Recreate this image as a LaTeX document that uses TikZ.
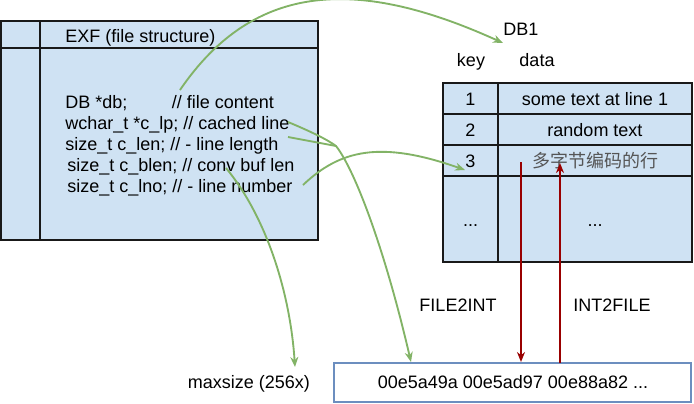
\documentclass[tikz,border=0pt]{standalone}
\usepackage{fontspec}
\setmainfont{Liberation Sans}
\newfontfamily\cjk{Noto Sans CJK SC}
\usetikzlibrary{arrows.meta}
\definecolor{boxfill}{HTML}{CFE2F3}
\definecolor{grn}{HTML}{82B366}
\definecolor{dred}{HTML}{990000}
\definecolor{bluebd}{HTML}{6C8EBF}
\definecolor{cjkgray}{HTML}{555555}
\begin{document}
\begin{tikzpicture}[x=0.75pt,y=-0.75pt, font=\fontsize{13.5}{15}\selectfont,
  lbl/.style={inner sep=0pt, anchor=base},
  lblw/.style={inner sep=0pt, anchor=base west},
  gline/.style={draw=grn, line width=1.4pt},
  garrow/.style={gline, -{Stealth[length=7.5pt,width=6pt]}},
  rarrow/.style={draw=dred, line width=1.4pt, -{Stealth[length=7.5pt,width=6pt]}},
  frame/.style={draw=black!90, line width=1.5pt, fill=boxfill},
  rule/.style={draw=black!90, line width=1.5pt}]
\useasboundingbox (0,0) rectangle (694,404);

% EXF structure box
\path[frame] (1,21) rectangle (318,240);
\draw[rule] (40,21) -- (40,240);
\draw[rule] (1,48) -- (318,48);
\node[lblw] (title) at (65,42) {EXF (file structure)};
\node[lblw] (l1) at (65,108) {\makebox[80pt][l]{DB *db;}// file content};
\node[lblw] (l2) at (65,129) {wchar\_t *c\_lp; // cached line};
\node[lblw] (l3) at (65,150) {size\_t c\_len; // - line length};
\node[lblw] (l4) at (67,171) {size\_t c\_blen; // conv buf len};
\node[lblw] (l5) at (67,192) {size\_t c\_lno; // - line number};

% DB1 table
\node[lbl] (db1) at (521,35) {DB1};
\node[lbl] (key) at (471,66) {key};
\node[lbl] (data) at (537,66) {data};
\path[frame] (443,83) rectangle (692,262);
\draw[rule] (498,83) -- (498,262);
\draw[rule] (443,114) -- (692,114);
\draw[rule] (443,145) -- (692,145);
\draw[rule] (443,176) -- (692,176);
\node[lbl] (k1) at (470.5,105) {1};
\node[lbl] (k2) at (470.5,136) {2};
\node[lbl] (k3) at (470.5,167) {3};
\node[lbl] (k4) at (470.5,226) {...};
\node[lbl] (d1) at (595,105) {some text at line 1};
\node[lbl] (d2) at (595,136) {random text};
\node[lbl, text=cjkgray] (d3) at (595,167) {\cjk\fontsize{13.5}{15}\selectfont 多字节编码的行};
\node[lbl] (d4) at (595,226) {...};

% conversion buffer
\draw[draw=bluebd, line width=1pt, fill=white] (334,363) rectangle (691,402);
\node[lbl] (buf) at (513,388) {00e5a49a 00e5ad97 00e88a82 ...};
\node[lbl] (maxsize) at (249,388) {maxsize (256x)};
\node[lbl] (f2i) at (458,311) {FILE2INT};
\node[lbl] (i2f) at (612,311) {INT2FILE};

% connector endpoints
\coordinate (dbp) at (180,90);
\coordinate (dbend) at (503,43);
\coordinate (lpp) at (288,122);
\coordinate (lenp) at (288,137);
\coordinate (lenj) at (336,146);
\coordinate (bufin) at (411,362);
\coordinate (lnop) at (303,185);
\coordinate (row3) at (465,170);
\coordinate (blenp) at (226,168);
\coordinate (maxin) at (295,367);
\coordinate (f2is) at (521,162);
\coordinate (f2ie) at (521,362);
\coordinate (i2fs) at (560,363);
\coordinate (i2fe) at (560,163);

% green connectors
\draw[garrow] (dbp) .. controls (255,-20) and (360,-22) .. (dbend);
\draw[garrow] (lpp) .. controls (312,132) and (328,140) .. (lenj)
  .. controls (355,170) and (385,250) .. (bufin);
\draw[gline] (lenp) -- (lenj);
\draw[garrow] (lnop) .. controls (340,150) and (380,140) .. (row3);
\draw[garrow] (blenp) .. controls (265,215) and (290,290) .. (maxin);

% red connectors
\draw[rarrow] (f2is) -- (f2ie);
\draw[rarrow] (i2fs) -- (i2fe);
\end{tikzpicture}
\end{document}
